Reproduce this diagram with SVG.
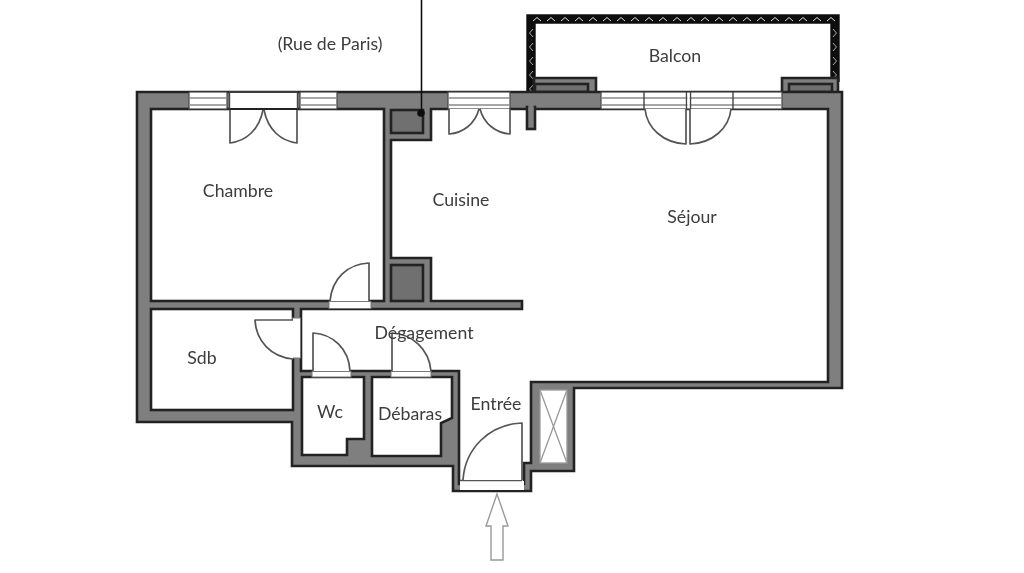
<svg xmlns="http://www.w3.org/2000/svg" width="1024" height="573" viewBox="0 0 1024 573">
<style>
text{font-family:Lato,"Open Sans","Liberation Sans",sans-serif;font-size:17.700px;fill:#3c3c3c;text-anchor:middle}
.wall{fill:#7f7f7f;stroke:#222;stroke-width:2.6;stroke-linejoin:miter}
.room{fill:#fff;stroke:#222;stroke-width:2.6;stroke-linejoin:miter}
.duct{fill:#6f6f6f;stroke:#222;stroke-width:2.6}
.sill{fill:#fff;stroke:#777;stroke-width:1}
.win{fill:#fff;stroke:#444;stroke-width:1.2}
.pane{stroke:#8a8a8a;stroke-width:1.4;fill:none}
.door{fill:#fff;stroke:#555;stroke-width:1.7;stroke-linejoin:round}
.thin{fill:none;stroke:#999;stroke-width:1.3}
</style>
<defs>
<filter id="soft" x="0" y="0" width="100%" height="100%"><feGaussianBlur stdDeviation="0.45"/></filter>
<pattern id="railH" width="14" height="8" patternUnits="userSpaceOnUse" x="530" y="15"><rect width="14" height="8" fill="#111"/><path d="M3 6L7 2.500L11 6" fill="none" stroke="#ddd" stroke-width="1"/></pattern>
<pattern id="railL" width="8" height="14" patternUnits="userSpaceOnUse" x="527" y="26"><rect width="8" height="14" fill="#111"/><path d="M6 3L2.500 7L6 11" fill="none" stroke="#bbb" stroke-width="0.900"/></pattern>
<pattern id="railR" width="8" height="14" patternUnits="userSpaceOnUse" x="831" y="26"><rect width="8" height="14" fill="#111"/><path d="M2 3L5.500 7L2 11" fill="none" stroke="#bbb" stroke-width="0.900"/></pattern>
</defs>
<g filter="url(#soft)">
<rect width="1024" height="573" fill="#fff"/>
<g id="balcon">
<rect x="527" y="15" width="312" height="8" fill="url(#railH)"/>
<rect x="527" y="23" width="8" height="69" fill="url(#railL)"/>
<rect x="831" y="23" width="8" height="66" fill="url(#railR)"/>
<path d="M527 92V15H839V82M535 78V23H831V78" fill="none" stroke="#111" stroke-width="1.400"/>
<path class="wall" d="M534 78H596V93H534Z"/>
<path class="wall" d="M782 78H838V93H782Z"/>
<rect class="duct" x="535" y="84" width="53" height="8" stroke-width="2"/>
<rect class="duct" x="789" y="84" width="43" height="8" stroke-width="2"/>
</g>
<g id="walls">
<path class="wall" d="M137 92H842V388H574V471H531V491H453V466H292V422H137Z"/>
</g>
<g id="rooms">
<rect id="chambre" class="room" x="151" y="109" width="233" height="192"/>
<rect id="sdb" class="room" x="151" y="309" width="142" height="101"/>
<path id="sejour" class="room" d="M301 309H522V301H431V258H391V140H431V109H828V382H531V463H524V484H459V371H301Z"/>
<path id="wc" class="room" d="M302 377H364V439H347V455H302Z"/>
<path id="debaras" class="room" d="M372 377H452V418L441 423V456H372Z"/>
<rect class="duct" x="391" y="110" width="32" height="23"/>
<rect class="duct" x="391" y="265" width="32" height="36"/>
<rect id="gaine" x="540" y="390" width="27" height="73" fill="#fff" stroke="#999" stroke-width="1.300"/>
<path class="thin" d="M540 390L567 463M567 390L540 463"/>
<rect class="wall" x="527" y="107" width="8" height="22"/>
<rect x="528.300" y="103" width="5.400" height="8" fill="#7f7f7f"/>
</g>
<g id="openings">
<rect class="sill" x="329" y="301.500" width="42" height="7"/>
<rect class="sill" x="312" y="371.500" width="39" height="5.500"/>
<rect class="sill" x="391" y="371.500" width="40" height="5.500"/>
<rect class="sill" x="292.500" y="318" width="8" height="40"/>
<rect fill="#fff" x="460" y="481" width="64" height="9"/>
<path d="M460 480.500H522" stroke="#555" stroke-width="1.500"/>
<rect class="win" x="189" y="92" width="38" height="17"/>
<rect class="win" x="300" y="92" width="37" height="17"/>
<rect class="win" x="448" y="92" width="62" height="17"/>
<rect class="win" x="601" y="92" width="181" height="17"/>
<path class="pane" d="M189 98H227M189 105H227M300 98H337M300 105H337M448 98H510M448 105H510M601 98H782M601 105H782"/>
<rect fill="#fff" x="229" y="93" width="69" height="15"/>
<path d="M229 92H298" stroke="#555" stroke-width="1.200"/>
<path d="M229.500 92V109M297.500 92V109M644 92V109M733 92V109M686.500 92V109M690.500 92V109" stroke="#444" stroke-width="1.400" fill="none"/>
<rect fill="#fff" x="687.500" y="93" width="2" height="15"/>
</g>
<g id="doors">
<path class="door" d="M230 110V143C246 141 259 130 263 110"/>
<path class="door" d="M297 110V143C281 141 268 130 264 110"/>
<path class="door" d="M449 109V134C463 133 475 124 479 109"/>
<path class="door" d="M510 109V134C496 133 484 124 480 109"/>
<path class="door" d="M686 109V144C663 143 647 128 645 109"/>
<path class="door" d="M690 109V144C713 143 729 128 731 109"/>
<path class="door" d="M369 301V263C347 264 332 279 330 301"/>
<path class="door" d="M313 371V333C333 334 349 349 350 371"/>
<path class="door" d="M392 371V333C412 334 429 349 431 371"/>
<path class="door" d="M293 320H255C256 341 271 357 293 359"/>
<path class="door" d="M522 480V423C489 424 465 449 463 480"/>
</g>
<g id="connectors">
<path d="M421.500 0V113" stroke="#111" stroke-width="1.600"/>
<circle cx="421" cy="113" r="3.800" fill="#111"/>
<path id="entry-arrow" d="M497 494L508 526H503V560H491V526H486Z" fill="#fff" stroke="#999" stroke-width="1.400"/>
</g>
<g id="labels">
<text x="330" y="50">(Rue de Paris)</text>
<text x="675" y="62">Balcon</text>
<text x="238" y="197">Chambre</text>
<text x="461" y="206">Cuisine</text>
<text x="692" y="223">Séjour</text>
<text x="424" y="339">Dégagement</text>
<text x="202" y="364">Sdb</text>
<text x="330" y="418">Wc</text>
<text x="410" y="420">Débaras</text>
<text x="496" y="410">Entrée</text>
</g>
</g>
</svg>
